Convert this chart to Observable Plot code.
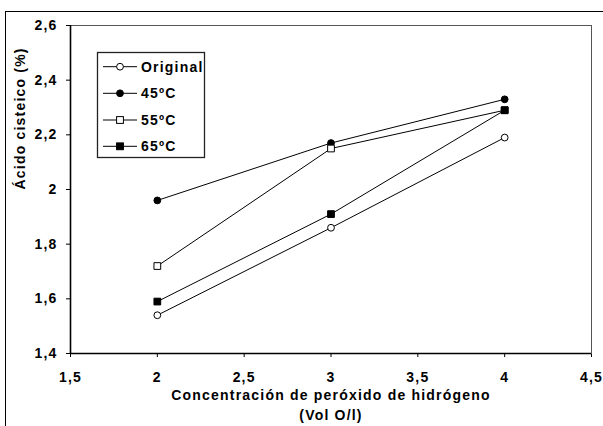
<!DOCTYPE html>
<html>
<head>
<meta charset="utf-8">
<script src="https://cdn.jsdelivr.net/npm/d3@7"></script>
<script src="https://cdn.jsdelivr.net/npm/@observablehq/plot@0.6"></script>
<style>
  html, body { margin: 0; padding: 0; background: #fff; overflow: hidden; }
  #wrap { position: relative; width: 603px; height: 426px; overflow: hidden; }
  #outer { position: absolute; left: 5px; top: 11px; width: 640px; height: 460px; border: 1.6px solid #000; box-sizing: border-box; pointer-events: none; }
  #chart { position: absolute; left: 0; top: 0; }
</style>
</head>
<body>
<div id="wrap"><div id="chart"></div><div id="outer"></div></div>
<script>
const concentrations = [2, 3, 4];
const seriesNames = ["Original", "45ºC", "55ºC", "65ºC"];
const original = [1.54, 1.86, 2.19];
const t45 = [1.96, 2.17, 2.33];
const t55 = [1.72, 2.15, 2.29];
const t65 = [1.59, 1.91, 2.29];
const xTicks = [1.5, 2, 2.5, 3, 3.5, 4, 4.5];
const yTicks = [1.4, 1.6, 1.8, 2, 2.2, 2.4, 2.6];
const xTitle = "Concentración de peróxido de hidrógeno\n(Vol O/l)";
const yTitle = "Ácido cisteico (%)";

const seriesValues = [original, t45, t55, t65];
const symbols = ["circle", "circle", "square", "square"];
const fills = ["white", "black", "white", "black"];
const rows = [];
seriesValues.forEach((vals, i) => {
  vals.forEach((v, j) => rows.push({series: seriesNames[i], x: concentrations[j], y: v, symbol: symbols[i], fill: fills[i]}));
});
const fmt = d => String(d).replace(".", ",");

const chart = Plot.plot({
  width: 603,
  height: 426,
  marginLeft: 70,
  marginRight: 12,
  marginTop: 25,
  marginBottom: 73,
  style: {fontFamily: "'Liberation Sans', Arial, sans-serif", fontSize: "14px", fontWeight: "bold", letterSpacing: "1.2px", color: "#000", background: "white", overflow: "visible"},
  x: {domain: [1.5, 4.5], ticks: xTicks, tickFormat: fmt, tickSize: 4, tickPadding: 15, label: null},
  y: {domain: [1.4, 2.6], ticks: yTicks, tickFormat: fmt, tickSize: 4, tickPadding: 9, label: null},
  marks: [
    Plot.frame({stroke: "#555", strokeWidth: 1}),
    Plot.ruleX([1.5], {stroke: "#000", strokeWidth: 1.6}),
    Plot.ruleY([1.4], {stroke: "#000", strokeWidth: 1.6}),
    Plot.line(rows, {x: "x", y: "y", z: "series", stroke: "#000", strokeWidth: 1}),
    Plot.dot(rows.filter(d => d.symbol === "circle"), {x: "x", y: "y", symbol: "circle", r: 3.4, fill: d => d.fill, stroke: "#000", strokeWidth: 1}),
    Plot.dot(rows.filter(d => d.symbol === "square"), {x: "x", y: "y", symbol: "square", r: 3.8, fill: d => d.fill, stroke: "#000", strokeWidth: 1}),
    Plot.text([xTitle], {frameAnchor: "bottom", lineAnchor: "top", dy: 32, lineHeight: 1.43, fontSize: 14, fontWeight: "bold"}),
    Plot.text([yTitle], {frameAnchor: "left", rotate: -90, dx: -50, lineAnchor: "middle", fontSize: 14, fontWeight: "bold"})
  ]
});
document.getElementById("chart").appendChild(chart);

// Legend box inside the plot area
const svg = d3.select(chart);
const lg = svg.append("g").attr("class", "legend").attr("text-anchor", "start");
lg.append("rect").attr("x", 97.5).attr("y", 52.5).attr("width", 107).attr("height", 105)
  .attr("fill", "white").attr("stroke", "#222").attr("stroke-width", 1.3);
const rowY = [66.7, 93.3, 120, 146.3];
seriesNames.forEach((name, i) => {
  const y = rowY[i];
  lg.append("line").attr("x1", 103).attr("x2", 137).attr("y1", y).attr("y2", y).attr("stroke", "#000").attr("stroke-width", 1);
  if (symbols[i] === "circle") {
    lg.append("circle").attr("cx", 120).attr("cy", y).attr("r", 3.4).attr("fill", fills[i]).attr("stroke", "#000");
  } else {
    lg.append("rect").attr("x", 120 - 3.4).attr("y", y - 3.4).attr("width", 6.8).attr("height", 6.8).attr("fill", fills[i]).attr("stroke", "#000");
  }
  lg.append("text").attr("x", 141).attr("y", y).attr("dy", "0.36em").attr("text-anchor", "start")
    .attr("font-size", 14).attr("font-weight", "bold").attr("fill", "#000").text(name);
});
</script>
</body>
</html>
